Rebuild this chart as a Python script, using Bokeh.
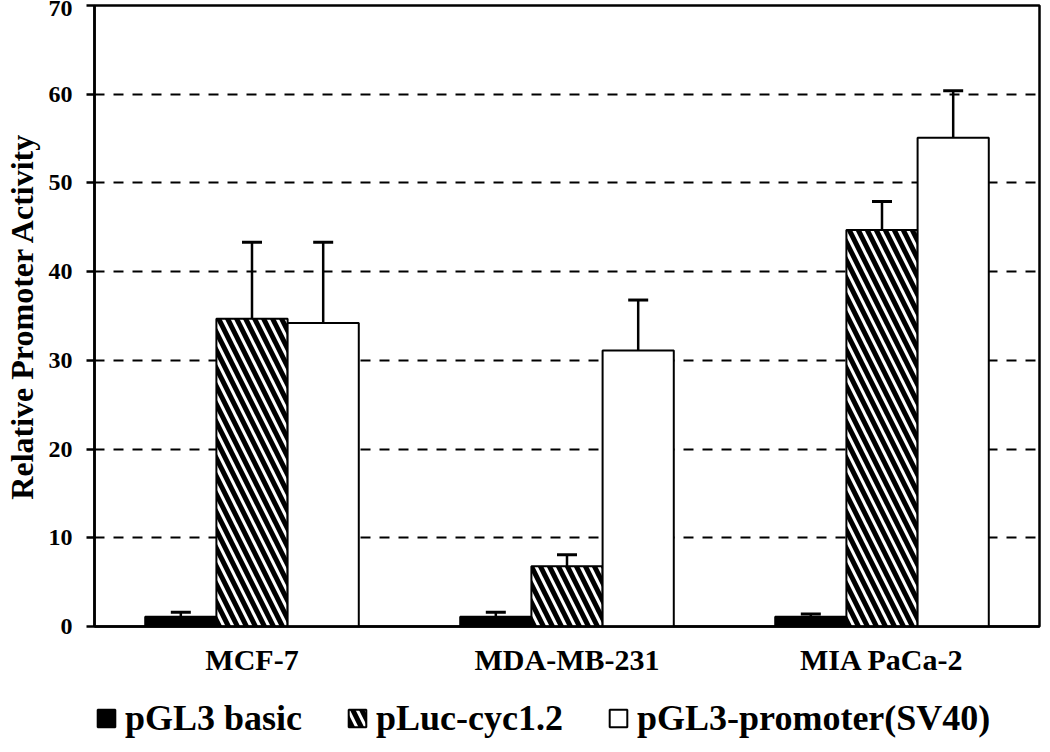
from bokeh.plotting import figure
from bokeh.layouts import column
from bokeh.models import (ColumnDataSource, FactorRange, Legend, LegendItem, Whisker,
                          TeeHead, SingleIntervalTicker)
from bokeh.transform import dodge
from bokeh.embed import file_html
from bokeh.resources import INLINE

categories = ["MCF-7", "MDA-MB-231", "MIA PaCa-2"]
series_names = ["pGL3 basic", "pLuc-cyc1.2", "pGL3-promoter(SV40)"]
basic = [1.1, 1.1, 1.1]
basic_err = [0.5, 0.5, 0.3]
cyc = [34.7, 6.8, 44.7]
cyc_err = [8.6, 1.3, 3.2]
sv40 = [34.2, 31.1, 55.1]
sv40_err = [9.1, 5.7, 5.3]
y_ticks_interval = 10

src = ColumnDataSource(dict(
    cat=categories,
    basic=basic, basic_hi=[v + e for v, e in zip(basic, basic_err)],
    cyc=cyc, cyc_hi=[v + e for v, e in zip(cyc, cyc_err)],
    sv40=sv40, sv40_hi=[v + e for v, e in zip(sv40, sv40_err)],
))

FONT = "Liberation Serif"
BW = 0.226

styles = [
    dict(fill_color="black", line_color="black", line_width=2),
    dict(fill_color="white", line_color="black", line_width=2,
         hatch_pattern="\\", hatch_color="black", hatch_scale=18, hatch_weight=5),
    dict(fill_color="white", line_color="black", line_width=2),
]
cols = ["basic", "cyc", "sv40"]
offsets = [-BW, 0, BW]

p = figure(x_range=FactorRange(factors=categories, range_padding=0), y_range=(0, 70),
           width=1042, height=686, output_backend="svg", toolbar_location=None,
           min_border_left=89, min_border_right=3, min_border_top=5, min_border_bottom=60,
           background_fill_color="white", border_fill_color="white")

for off, col, st in zip(offsets, cols, styles):
    p.vbar(x=dodge("cat", off, range=p.x_range), top=col, width=BW, source=src, **st)

for off, col in zip(offsets, cols):
    w = Whisker(base=dodge("cat", off, range=p.x_range), lower=col, upper=col + "_hi", source=src,
                dimension="height", line_color="black", line_width=2.5,
                upper_head=TeeHead(size=20, line_width=3, line_color="black"), lower_head=None)
    p.add_layout(w)

p.ygrid.ticker = SingleIntervalTicker(interval=y_ticks_interval)
p.yaxis.ticker = SingleIntervalTicker(interval=y_ticks_interval)
p.ygrid.grid_line_color = "black"
p.ygrid.grid_line_dash = "10 9"
p.ygrid.grid_line_width = 2
p.xgrid.grid_line_color = None

p.outline_line_color = "black"
p.outline_line_width = 2.5
p.outline_line_alpha = 1

p.yaxis.axis_line_width = 2.5
p.yaxis.major_tick_out = 8
p.yaxis.major_tick_in = 0
p.yaxis.major_tick_line_width = 2.5
p.yaxis.minor_tick_line_color = None
p.yaxis.major_label_text_font = FONT
p.yaxis.major_label_text_font_style = "bold"
p.yaxis.major_label_text_font_size = "24px"
p.yaxis.major_label_text_color = "black"
p.yaxis.major_label_standoff = 14
p.yaxis.axis_label = "Relative Promoter Activity"
p.yaxis.axis_label_text_font = FONT
p.yaxis.axis_label_text_font_style = "bold"
p.yaxis.axis_label_text_font_size = "32px"
p.yaxis.axis_label_text_color = "black"
p.yaxis.axis_label_standoff = 6

p.xaxis.axis_line_width = 2.5
p.xaxis.major_tick_line_color = None
p.xaxis.minor_tick_line_color = None
p.xaxis.major_label_text_font = FONT
p.xaxis.major_label_text_font_style = "bold"
p.xaxis.major_label_text_font_size = "30px"
p.xaxis.major_label_text_color = "black"
p.xaxis.major_label_standoff = 10

# legend strip below the chart (hidden copies of the series supply the legend swatches)
pl = figure(width=1042, height=58, output_backend="svg", toolbar_location=None,
            x_range=p.x_range, y_range=p.y_range,
            x_axis_location=None, y_axis_location=None,
            min_border_left=0, min_border_right=0, min_border_top=0, min_border_bottom=0,
            background_fill_color="white", border_fill_color="white")
pl.grid.visible = False
pl.outline_line_color = None
items = []
for off, col, st, name in zip(offsets, cols, styles, series_names):
    r = pl.vbar(x=dodge("cat", off, range=p.x_range), top=col, width=BW, source=src,
                visible=False, **st)
    items.append(LegendItem(label=name, renderers=[r]))

legend = Legend(items=items, orientation="horizontal", location=(1, 5),
                label_text_font=FONT, label_text_font_style="bold", label_text_font_size="36px",
                label_text_color="black",
                glyph_width=22, glyph_height=22, spacing=44, label_standoff=8,
                padding=0, margin=0, border_line_color=None, background_fill_alpha=0,
                inactive_fill_alpha=0, click_policy="none")
pl.add_layout(legend, "center")

open("out.html", "w").write(file_html(column(p, pl), INLINE))
